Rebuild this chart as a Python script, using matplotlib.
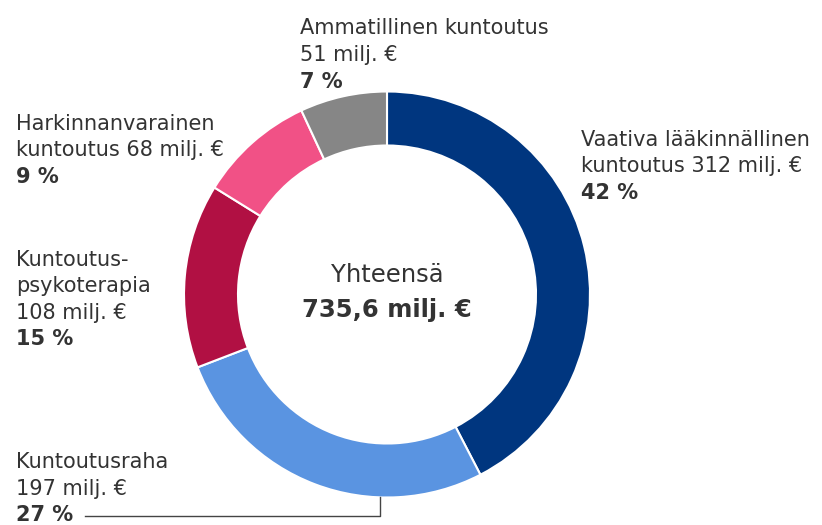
import matplotlib.pyplot as plt

plt.rcParams['font.family'] = ['Liberation Sans Narrow', 'DejaVu Sans']

# data
names = [['Vaativa lääkinnällinen', 'kuntoutus 312 milj. €'],
         ['Kuntoutusraha', '197 milj. €'],
         ['Kuntoutus-', 'psykoterapia', '108 milj. €'],
         ['Harkinnanvarainen', 'kuntoutus 68 milj. €'],
         ['Ammatillinen kuntoutus', '51 milj. €']]
values = [312, 197, 108, 68, 51]
percents = ['42 %', '27 %', '15 %', '9 %', '7 %']
total_label = '735,6 milj. €'
colors = ['#00367f', '#5a94e1', '#b11043', '#f15186', '#868686']

# label anchor: left x, first baseline y (pixels from top)
label_pos = [(581, 145.5), (16, 468), (16, 265.5), (16, 129.5), (300, 34.5)]

W, H = 822, 525
fig = plt.figure(figsize=(W / 100, H / 100), dpi=100)
ax = fig.add_axes([0, 0, 1, 1])

cx, cy, r = 387, H - 294.5, 203
ax.pie(values, colors=colors, startangle=90, counterclock=False,
       center=(cx, cy), radius=r,
       wedgeprops=dict(width=54, edgecolor='white', linewidth=1.5))

ax.set_xlim(0, W)
ax.set_ylim(0, H)
ax.set_aspect('equal')
ax.axis('off')

txt = '#333333'
fs = 15
lh = 26.6
for lines, pct, (x, y) in zip(names, percents, label_pos):
    for i, line in enumerate(lines):
        ax.text(x, H - (y + i * lh), line, ha='left', va='baseline',
                fontsize=fs, color=txt)
    ax.text(x, H - (y + len(lines) * lh), pct, ha='left', va='baseline',
            fontsize=fs, color=txt, fontweight='bold')

ax.text(cx, H - 282, 'Yhteensä', ha='center', va='baseline', fontsize=17.5, color=txt)
ax.text(cx, H - 317, total_label, ha='center', va='baseline', fontsize=17.5,
        color=txt, fontweight='bold')

# connector for Kuntoutusraha
ax.plot([380, 380, 85], [H - 497, H - 516, H - 516], color='#444444', lw=1)

fig.savefig('out.png', dpi=100)
